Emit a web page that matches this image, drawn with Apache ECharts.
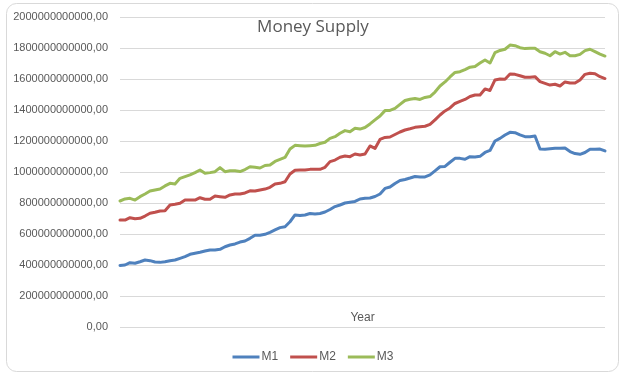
<!DOCTYPE html>
<html>
<head>
<meta charset="utf-8">
<script src="https://cdn.jsdelivr.net/npm/echarts@6/dist/echarts.min.js"></script>
<style>
html,body{margin:0;padding:0;background:#fff;}
#chart{width:626px;height:380px;}
</style>
</head>
<body>
<div id="chart"></div>
<script>
// values in billions
var m1 = [397,400,415,411,421,432,428,419,417,421,
428,432,443,454,469,476,482,490,497,497,
501,518,529,536,548,555,572,592,592,598,
611,626,641,647,679,723,719,723,732,729,
732,742,758,777,787,800,805,810,826,830,
832,842,858,894,903,926,945,952,961,971,
968,968,981,1007,1034,1036,1063,1088,1088,1082,
1099,1097,1101,1126,1139,1200,1217,1239,1256,1254,
1239,1228,1228,1232,1148,1147,1150,1153,1153,1155,
1132,1119,1114,1126,1147,1147,1148,1136];
var m2 = [690,690,705,699,701,716,734,740,748,750,
787,792,798,819,819,819,834,824,824,845,
841,837,852,858,858,865,879,877,884,890,
901,923,927,937,987,1011,1013,1013,1017,1017,
1017,1030,1067,1077,1095,1103,1099,1116,1110,1116,
1168,1152,1210,1223,1226,1242,1258,1271,1279,1288,
1292,1295,1307,1336,1368,1394,1413,1442,1455,1468,
1487,1497,1497,1536,1526,1594,1600,1598,1632,1630,
1621,1611,1611,1615,1583,1572,1561,1566,1555,1581,
1574,1574,1594,1630,1637,1634,1615,1603];
var m3 = [813,826,830,819,841,858,877,884,890,910,
927,923,959,970,981,996,1013,992,996,1002,
1028,1002,1008,1008,1003,1016,1034,1030,1026,1042,
1045,1068,1081,1094,1148,1172,1170,1168,1170,1172,
1184,1192,1217,1228,1250,1267,1260,1282,1277,1287,
1310,1336,1361,1396,1397,1410,1436,1461,1469,1474,
1468,1481,1487,1516,1555,1581,1613,1642,1647,1661,
1676,1681,1703,1723,1703,1770,1784,1792,1819,1815,
1802,1796,1798,1798,1776,1766,1750,1776,1761,1772,
1750,1750,1759,1783,1792,1777,1761,1748];
var seriesNames = ['M1','M2','M3'];
var categories = m1.map(function(_, i){ return String(i + 1); });
var yMin = 0, yMax = 2000000000000, yStep = 200000000000;

var colors = ['#4F81BD','#C0504D','#9BBB59'];
var toFull = function(arr){ return arr.map(function(v){ return v * 1e9; }); };
var font = "'Liberation Sans', Arial, sans-serif";

var chart = echarts.init(document.getElementById('chart'), null, {renderer:'canvas'});
chart.setOption({
  animation: false,
  backgroundColor: '#fff',
  color: colors,
  graphic: [{
    type: 'rect',
    shape: {x: 6.5, y: 3.5, width: 612, height: 368, r: 10},
    style: {fill: '#fff', stroke: '#d9d9d9', lineWidth: 1},
    z: -10
  }],
  title: {
    text: 'Money Supply',
    left: 'center',
    top: 14,
    textStyle: {fontFamily: "'Open Sans', sans-serif", fontSize: 17, fontWeight: 'normal', color: '#595959'}
  },
  legend: {
    data: seriesNames,
    icon: 'rect',
    top: 346,
    left: 'center',
    itemWidth: 27,
    itemHeight: 3,
    itemGap: 12,
    textStyle: {fontFamily: font, fontSize: 12, color: '#595959', padding: [0,0,0,-3]}
  },
  grid: {left: 120, right: 21, top: 17, bottom: 53, containLabel: false},
  xAxis: {
    type: 'category',
    data: categories,
    boundaryGap: false,
    name: 'Year',
    nameLocation: 'middle',
    nameGap: -9,
    nameTextStyle: {fontFamily: font, fontSize: 12, color: '#595959', verticalAlign: 'middle'},
    axisLine: {show: false},
    axisTick: {show: false},
    axisLabel: {show: false},
    splitLine: {show: false}
  },
  yAxis: {
    type: 'value',
    min: yMin, max: yMax, interval: yStep,
    axisLine: {show: false},
    axisTick: {show: false},
    axisLabel: {
      fontFamily: font, fontSize: 11, color: '#595959', margin: 12,
      formatter: function(v){ return v.toFixed(2).replace('.', ','); }
    },
    splitLine: {lineStyle: {color: '#d9d9d9', width: 1}}
  },
  series: [m1, m2, m3].map(function(arr, i){
    return {
      name: seriesNames[i],
      type: 'line',
      data: toFull(arr),
      symbol: 'none',
      smooth: false,
      lineStyle: {width: 3, color: colors[i], cap: 'round', join: 'round'},
      itemStyle: {color: colors[i]}
    };
  })
});
</script>
</body>
</html>
